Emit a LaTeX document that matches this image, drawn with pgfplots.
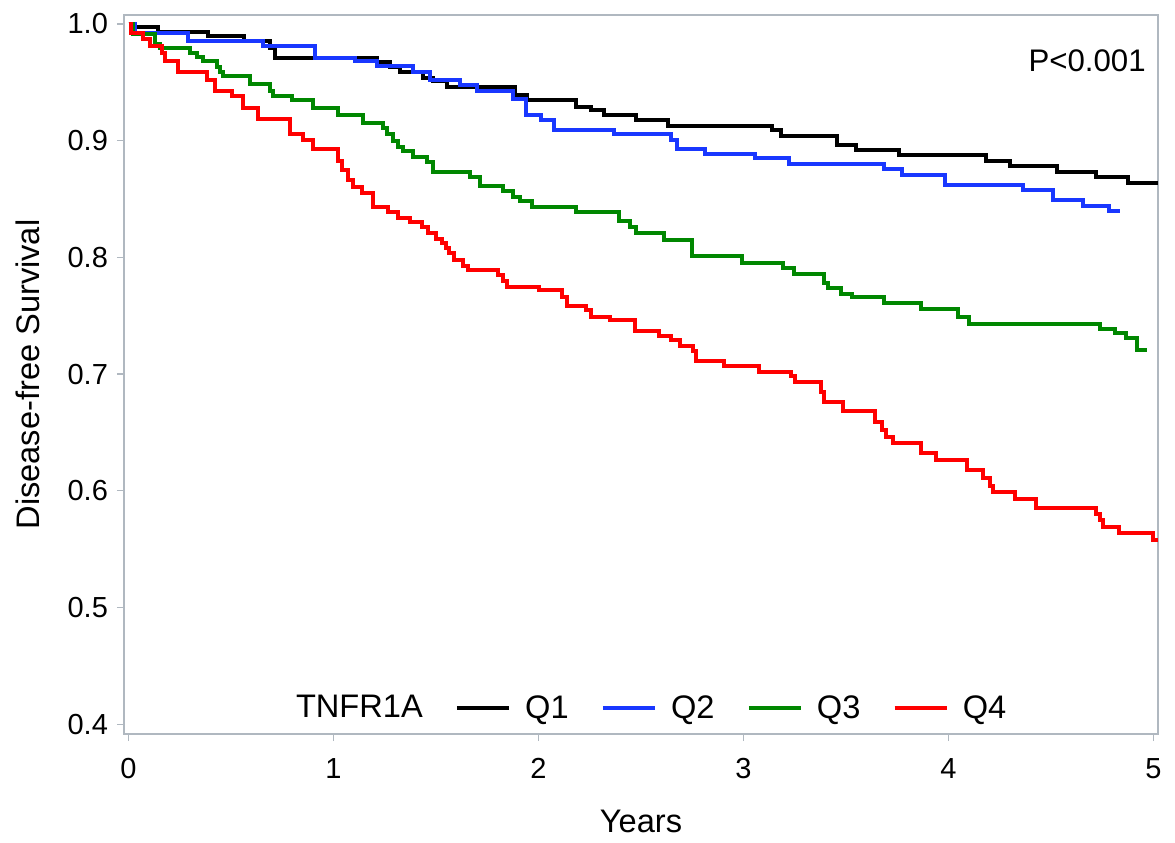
\documentclass[border=0pt]{standalone}
\usepackage{pgfplots}
\pgfplotsset{compat=1.18}
\usepackage{fontspec}
\setmainfont{Liberation Sans}
\definecolor{qblue}{RGB}{25,55,255}
\definecolor{qgreen}{RGB}{0,135,0}
\definecolor{qred}{RGB}{255,0,0}
\definecolor{framegray}{RGB}{176,184,192}
\begin{document}
\begin{tikzpicture}[x=1pt,y=1pt]
\begin{axis}[
  scale only axis,
  width=517pt, height=359.5pt,
  xmin=-0.022, xmax=5.022,
  ymin=0.3916, ymax=1.0077,
  xtick={0,1,2,3,4,5},
  ytick={0.4,0.5,0.6,0.7,0.8,0.9,1.0},
  yticklabel style={/pgf/number format/fixed, /pgf/number format/fixed zerofill, /pgf/number format/precision=1, xshift=-1pt},
  /pgf/number format/assume math mode=true,
  tick align=outside,
  major tick length=3.5pt,
  tick style={framegray, line width=0.6pt},
  axis line style={framegray, line width=0.8pt},
  xtick pos=bottom, ytick pos=left,
  every tick label/.append style={font=\fontsize{14.5}{16}\selectfont, text=black},
  xticklabel style={yshift=-5pt},
  xlabel={Years},
  ylabel={Disease-free Survival},
  label style={font=\fontsize{16.3}{18}\selectfont},
  xlabel style={yshift=-9pt},
  ylabel style={yshift=7pt},
  legend columns=5,
  legend style={draw=none, fill=none, at={(0.505,0.036)}, anchor=center,
     font=\fontsize{16.3}{18}\selectfont, column sep=5pt,
     /tikz/every even column/.append style={column sep=14pt}},
  legend cell align=left,
  legend image code/.code={\draw[#1, line width=2.2pt] (0pt,0pt) -- (26pt,0pt);},
  clip=true,
]
\addlegendimage{empty legend}
\addlegendentry{TNFR1A}
\addplot[const plot, black, line width=2pt] coordinates {
(0,1.0)(0.03,0.997)(0.144,0.993)(0.389,0.990)(0.563,0.985)(0.69,0.979)(0.715,0.971)(1.213,0.967)(1.276,0.963)(1.324,0.959)(1.437,0.954)(1.485,0.951)(1.554,0.946)(1.885,0.939)(1.944,0.935)(2.181,0.929)(2.255,0.926)(2.318,0.922)(2.476,0.918)(2.632,0.913)(3.139,0.909)(3.181,0.904)(3.455,0.896)(3.549,0.892)(3.759,0.888)(4.181,0.883)(4.298,0.878)(4.529,0.873)(4.72,0.869)(4.876,0.864)(5.02,0.864)
};
\addlegendentry{Q1}
\addplot[const plot, qblue, line width=2pt] coordinates {
(0,1.0)(0.03,0.992)(0.29,0.985)(0.656,0.981)(0.91,0.971)(1.105,0.968)(1.212,0.964)(1.388,0.959)(1.471,0.952)(1.617,0.948)(1.7,0.943)(1.876,0.936)(1.939,0.922)(2.012,0.918)(2.076,0.909)(2.37,0.906)(2.644,0.901)(2.676,0.893)(2.812,0.889)(3.055,0.885)(3.223,0.880)(3.687,0.876)(3.771,0.871)(3.981,0.862)(4.361,0.858)(4.508,0.849)(4.656,0.844)(4.782,0.840)(4.835,0.840)
};
\addlegendentry{Q2}
\addplot[const plot, qgreen, line width=2pt] coordinates {
(0,1.0)(0.023,0.991)(0.13,0.983)(0.154,0.979)(0.30,0.975)(0.333,0.972)(0.365,0.968)(0.43,0.963)(0.446,0.959)(0.463,0.955)(0.593,0.949)(0.69,0.943)(0.706,0.938)(0.796,0.935)(0.902,0.928)(1.023,0.922)(1.145,0.915)(1.243,0.911)(1.26,0.906)(1.292,0.900)(1.316,0.895)(1.34,0.891)(1.389,0.886)(1.455,0.882)(1.487,0.873)(1.666,0.869)(1.715,0.861)(1.828,0.857)(1.877,0.852)(1.91,0.848)(1.968,0.843)(2.181,0.839)(2.391,0.831)(2.444,0.826)(2.476,0.821)(2.612,0.815)(2.749,0.801)(2.992,0.795)(3.192,0.791)(3.244,0.786)(3.392,0.778)(3.412,0.774)(3.476,0.769)(3.529,0.766)(3.685,0.761)(3.866,0.756)(4.045,0.749)(4.098,0.743)(4.739,0.739)(4.812,0.735)(4.866,0.731)(4.92,0.721)(4.97,0.721)
};
\addlegendentry{Q3}
\addplot[const plot, qred, line width=2pt] coordinates {
(0,1.0)(0.01,0.992)(0.072,0.987)(0.105,0.981)(0.162,0.975)(0.178,0.968)(0.243,0.959)(0.381,0.952)(0.422,0.943)(0.503,0.938)(0.56,0.928)(0.633,0.919)(0.788,0.906)(0.853,0.901)(0.902,0.893)(1.023,0.883)(1.04,0.875)(1.072,0.866)(1.097,0.860)(1.137,0.855)(1.194,0.843)(1.264,0.839)(1.315,0.834)(1.375,0.830)(1.43,0.826)(1.461,0.821)(1.50,0.816)(1.529,0.812)(1.55,0.808)(1.563,0.804)(1.588,0.798)(1.632,0.793)(1.656,0.789)(1.802,0.785)(1.829,0.780)(1.846,0.775)(2.0,0.772)(2.115,0.766)(2.137,0.758)(2.231,0.755)(2.256,0.749)(2.35,0.746)(2.471,0.737)(2.588,0.733)(2.644,0.729)(2.689,0.724)(2.752,0.720)(2.77,0.711)(2.906,0.707)(3.078,0.702)(3.232,0.698)(3.25,0.693)(3.377,0.685)(3.395,0.676)(3.485,0.668)(3.639,0.659)(3.676,0.652)(3.693,0.646)(3.729,0.641)(3.865,0.632)(3.938,0.626)(4.09,0.618)(4.17,0.611)(4.2,0.604)(4.217,0.599)(4.326,0.593)(4.426,0.585)(4.72,0.580)(4.74,0.575)(4.752,0.569)(4.833,0.564)(4.996,0.558)(5.02,0.558)
};
\addlegendentry{Q4}
\node[anchor=north east, inner sep=0pt, font=\fontsize{15.6}{17}\selectfont] at (rel axis cs:1,1) [xshift=-6pt, yshift=-17pt] {P<0.001};
\end{axis}
\path (current axis.south west) ++(-62pt,-54pt) rectangle ([shift={(8.5pt,7.5pt)}]current axis.north east);
\end{tikzpicture}
\end{document}
